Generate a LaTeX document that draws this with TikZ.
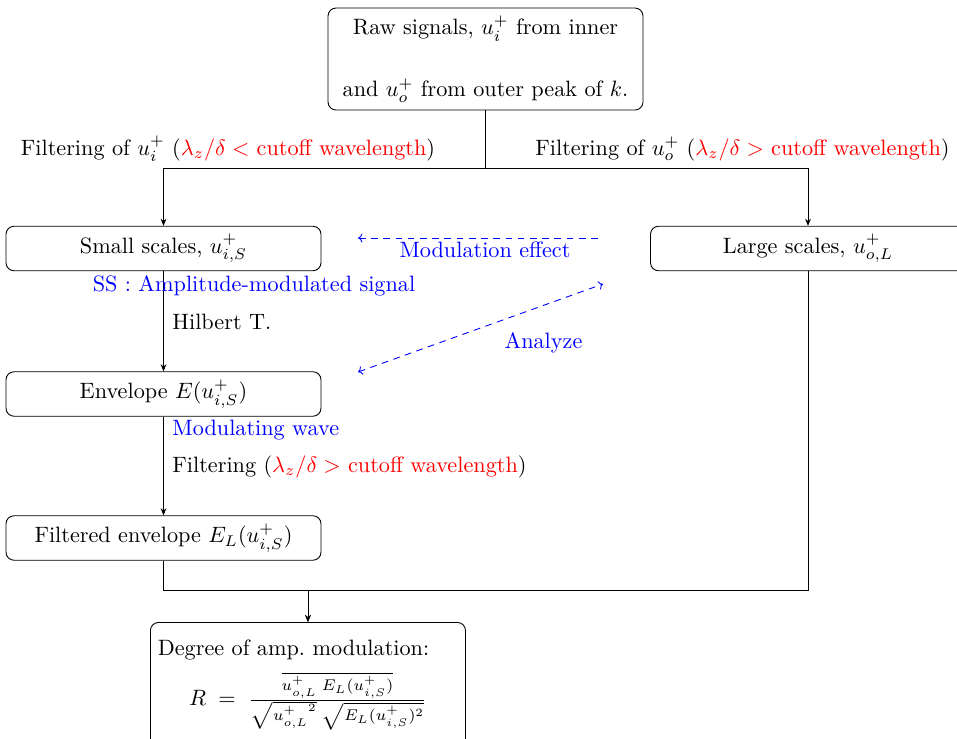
\documentclass[tikz,border=0pt]{standalone}
\usepackage{xcolor}
\usetikzlibrary{arrows.meta}
\begin{document}
\begin{tikzpicture}[x=0.45pt,y=-0.45pt,
  box/.style={draw, rounded corners=3.6pt, minimum width=141.75pt, minimum height=20pt, inner sep=1pt},
  lbl/.style={anchor=base, inner sep=0pt},
  lblw/.style={anchor=base west, inner sep=0pt},
  blu/.style={text=blue},
  arr/.style={-{Stealth[length=3.2pt,width=2.6pt]}},
  darr/.style={blue, dashed, dash pattern=on 3pt off 2.5pt, {To[length=2pt,width=4pt]}-},
  ddarr/.style={blue, dashed, dash pattern=on 3pt off 2.5pt, {To[length=2pt,width=4pt]}-{To[length=2pt,width=4pt]}}]
\useasboundingbox (0,0) rectangle (957,738);

% boxes
\node[box, minimum height=45.9pt, align=center] (raw) at (485.5,59)
  {Raw signals, $u_i^+$ from inner\\[15.9pt] and $u_o^+$ from outer peak of $k$.};
\node[box] (small) at (163.5,248.5) {Small scales, $u^+_{i,S}$};
\node[box] (large) at (808,248.5) {Large scales, $u^+_{o,L}$};
\node[box] (env) at (163.5,394) {Envelope $E(u^+_{i,S})$};
\node[box] (filt) at (163.5,538) {Filtered envelope $E_L(u^+_{i,S})$};
\node[draw, rounded corners=3.6pt, anchor=north west, text width=135.1pt, minimum height=56pt,
      inner sep=3.333pt, align=left] (final) at (150,622)
  {Degree of amp.\ modulation:\par\vspace{4.5pt}
   {\centering $R\;=\;\frac{\overline{u^+_{o,L}\;E_L(u^+_{i,S})}}{\sqrt{{u^+_{o,L}}^{2}}\;\sqrt{E_L(u^+_{i,S})^2}}$\par}};

% coordinates
\coordinate (split) at (485.5,168);
\path (final.north) ++(0,-32) coordinate (merge);

% connectors
\draw (raw.south) -- (split);
\draw[arr] (split) -| (small.north);
\draw[arr] (split) -| (large.north);
\draw[arr] (small.south) -- (env.north);
\draw[arr] (env.south) -- (filt.north);
\draw[arr] (filt.south) |- (merge) -- (final.north);
\draw[arr] (large.south) |- (merge) -- (final.north);

% dashed arrows
\coordinate (me1) at (358,238);
\coordinate (me2) at (603,238);
\coordinate (an1) at (358,372);
\coordinate (an2) at (603,284);
\draw[darr] (me1) -- (me2);
\draw[ddarr] (an1) -- (an2);

% labels
\node[lbl] (lf1) at (228,155) {Filtering of $u_i^+$ (\textcolor{red}{$\lambda_z/\delta <$ cutoff wavelength})};
\node[lbl] (lf2) at (742.5,155) {Filtering of $u_o^+$ (\textcolor{red}{$\lambda_z/\delta >$ cutoff wavelength})};
\node[lbl, blu] (lss) at (254,291) {SS : Amplitude-modulated signal};
\node[lblw] (lhil) at (172,329) {Hilbert T.};
\node[lbl, blu] (lme) at (485,257) {Modulation effect};
\node[lbl, blu] (lan) at (543.5,348) {Analyze};
\node[lblw, blu] (lmw) at (172,435) {Modulating wave};
\node[lblw] (lf3) at (172,472) {Filtering (\textcolor{red}{$\lambda_z/\delta >$ cutoff wavelength})};
\end{tikzpicture}
\end{document}
